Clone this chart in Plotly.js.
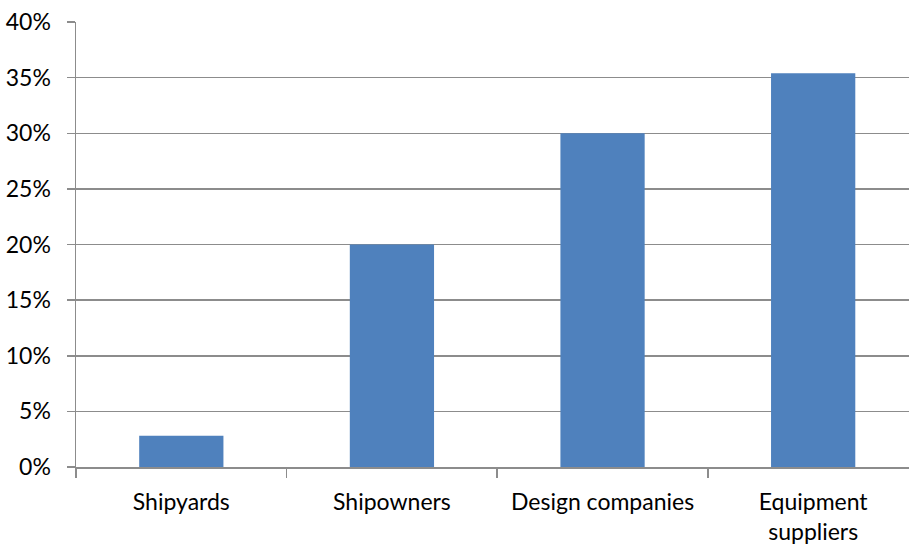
<!DOCTYPE html>
<html>
<head>
<meta charset="utf-8">
<script src="https://cdn.plot.ly/plotly-3.0.1.min.js"></script>
<style>html,body{margin:0;padding:0;background:#fff;}#chart{width:909px;height:546px;}</style>
</head>
<body>
<div id="chart"></div>
<script>
const categories = ["Shipyards", "Shipowners", "Design companies", "Equipment<br>suppliers"];
const shares = [2.8, 20, 30, 35.4];
const yTicks = [0, 5, 10, 15, 20, 25, 30, 35, 40];
const yTickLabels = ["0%", "5%", "10%", "15%", "20%", "25%", "30%", "35%", "40%"];

const gray = "#8c8c8c";
const fontFamily = "Lato, 'Open Sans', sans-serif";

Plotly.newPlot("chart", [{
  type: "bar",
  x: categories,
  y: shares,
  marker: {color: "#4f81bd"},
  hoverinfo: "skip"
}], {
  width: 909,
  height: 546,
  margin: {l: 76, r: 0, t: 22, b: 79, pad: 0},
  paper_bgcolor: "#fff",
  plot_bgcolor: "#fff",
  bargap: 0.6,
  showlegend: false,
  font: {family: fontFamily, size: 23, color: "#000"},
  xaxis: {
    type: "category",
    range: [-0.5, 3.455],
    tickson: "boundaries",
    ticks: "outside",
    ticklen: 9,
    tickwidth: 1.5,
    tickcolor: gray,
    showline: true,
    linecolor: gray,
    linewidth: 1.5,
    showgrid: false,
    zeroline: false,
    ticklabelstandoff: 14,
    tickfont: {family: fontFamily, size: 23, color: "#000"}
  },
  yaxis: {
    range: [0, 40],
    tickvals: yTicks,
    ticktext: yTickLabels,
    ticks: "outside",
    ticklen: 8,
    tickwidth: 1.5,
    tickcolor: gray,
    showline: true,
    linecolor: gray,
    linewidth: 1.5,
    showgrid: true,
    gridcolor: gray,
    gridwidth: 1.5,
    zeroline: false,
    ticklabelstandoff: 11,
    tickfont: {family: fontFamily, size: 23, color: "#000"}
  }
}, {staticPlot: true, displayModeBar: false});
</script>
</body>
</html>
